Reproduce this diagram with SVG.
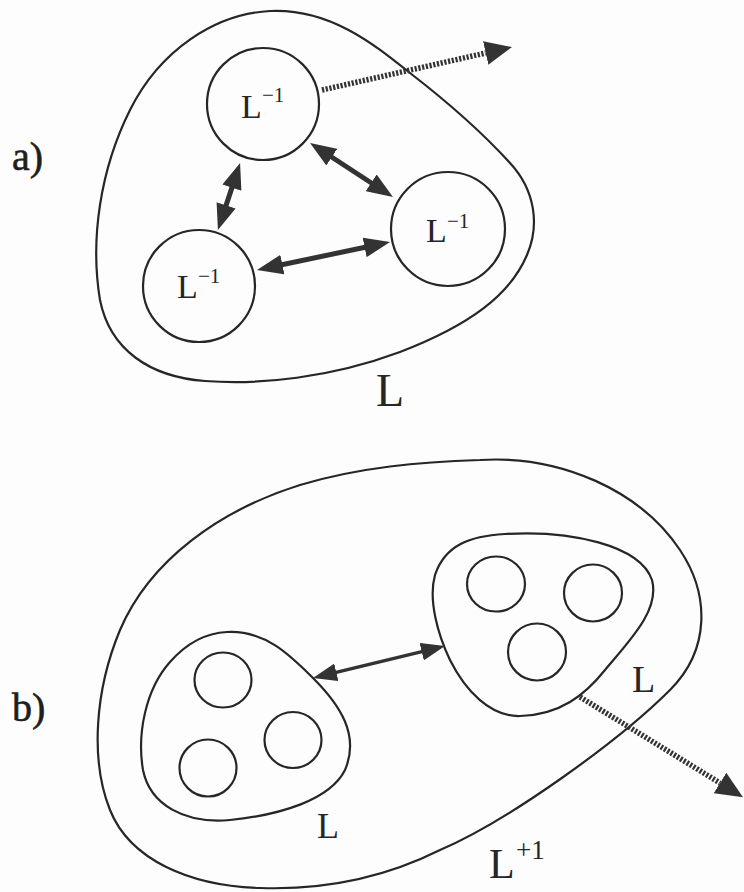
<svg xmlns="http://www.w3.org/2000/svg" width="744" height="892" viewBox="0 0 744 892">
  <style>
    .blob { fill: none; stroke: #262626; stroke-width: 2.2; }
    .unit { fill: none; stroke: #262626; stroke-width: 2.2; }
    .lbl { font-family: "Liberation Serif", "Times New Roman", serif; fill: #262626; }
    .tag { font-family: "Liberation Serif", "Times New Roman", serif; fill: #1e1e1e; stroke: #1e1e1e; stroke-width: 0.6; }
    .link { fill: none; stroke: #333; stroke-width: 5; }
    .link-thin { fill: none; stroke: #333; stroke-width: 3.5; }
    .escape { fill: none; stroke: #333; stroke-width: 5.5; stroke-dasharray: 2.2 1.6; }
  </style>
  <defs>
    <marker id="head" viewBox="0 0 26 20" refX="14" refY="10" markerWidth="26" markerHeight="20" markerUnits="userSpaceOnUse" orient="auto-start-reverse">
      <path d="M0,0 L26,10 L0,20 z" fill="#333"/>
    </marker>
    <marker id="head-sm" viewBox="0 0 24 18" refX="13" refY="9" markerWidth="24" markerHeight="18" markerUnits="userSpaceOnUse" orient="auto-start-reverse">
      <path d="M0,0 L24,9 L0,18 z" fill="#333"/>
    </marker>
    <marker id="head-out" viewBox="0 0 27 24" refX="0" refY="12" markerWidth="27" markerHeight="24" markerUnits="userSpaceOnUse" orient="auto">
      <path d="M0,0 L27,12 L0,24 z" fill="#333"/>
    </marker>
  </defs>

  <rect width="744" height="892" fill="#fdfdfd"/>

  <!-- part a: one level-L unit made of three level L-1 units -->
  <text class="tag" x="12" y="170" font-size="40">a)</text>

  <g id="a-cluster">
    <path class="blob" d="M 270 11 C 330 8, 375 45, 410 73 C 445 100, 480 130, 510 163 C 535 190, 540 225, 527 255 C 510 295, 470 325, 400 352 C 330 378, 260 385, 205 381 C 150 377, 110 350, 100 300 C 90 240, 100 170, 130 110 C 160 50, 215 14, 270 11 Z"/>
    <text class="lbl" x="376" y="406" font-size="46">L</text>
  </g>

  <g id="a-top">
    <circle class="unit" cx="263" cy="104" r="56"/>
    <text class="lbl" x="241" y="118" font-size="34">L</text>
    <text class="lbl" x="262" y="102" font-size="21">−1</text>
  </g>

  <g id="a-left">
    <circle class="unit" cx="199" cy="286" r="56"/>
    <text class="lbl" x="177" y="298" font-size="34">L</text>
    <text class="lbl" x="198" y="283" font-size="21">−1</text>
  </g>

  <g id="a-right">
    <circle class="unit" cx="448" cy="229" r="57"/>
    <text class="lbl" x="426" y="242" font-size="34">L</text>
    <text class="lbl" x="447" y="228" font-size="21">−1</text>
  </g>

  <!-- part b: one level L+1 unit made of two level-L units -->
  <text class="tag" x="12" y="721" font-size="40">b)</text>

  <g id="b-cluster">
    <path class="blob" d="M 480 460 C 560 455, 640 490, 680 550 C 710 595, 710 650, 670 690 C 620 740, 510 820, 440 850 C 380 880, 320 890, 260 888 C 190 886, 130 860, 110 810 C 90 760, 95 690, 120 630 C 150 560, 220 510, 300 485 C 360 467, 420 462, 480 460 Z"/>
    <text class="lbl" x="489" y="878" font-size="42">L</text>
    <text class="lbl" x="516" y="859" font-size="27">+1</text>
  </g>

  <g id="b-left">
    <path class="blob" d="M 227 632 C 265 630, 290 655, 313 678 C 340 705, 360 735, 345 770 C 330 800, 280 815, 230 820 C 185 824, 150 805, 143 770 C 137 735, 145 690, 170 662 C 185 645, 205 633, 227 632 Z"/>
    <ellipse class="unit" cx="223" cy="680" rx="28.5" ry="27.5"/>
    <ellipse class="unit" cx="293" cy="740" rx="28.5" ry="28"/>
    <ellipse class="unit" cx="208" cy="768" rx="28.5" ry="28.5"/>
    <text class="lbl" x="317" y="838" font-size="36">L</text>
  </g>

  <g id="b-right">
    <path class="blob" d="M 505 534 C 570 530, 640 545, 652 580 C 660 610, 630 640, 605 670 C 585 695, 560 715, 520 716 C 490 717, 465 690, 450 660 C 438 635, 428 600, 435 575 C 445 545, 470 536, 505 534 Z"/>
    <ellipse class="unit" cx="496" cy="584" rx="29" ry="27.5"/>
    <ellipse class="unit" cx="593" cy="593" rx="29" ry="28.5"/>
    <ellipse class="unit" cx="537" cy="652" rx="29" ry="28.5"/>
    <text class="lbl" x="632" y="692" font-size="38">L</text>
  </g>

  <g id="connectors">
    <!-- part a: exchanges between the three inner units -->
    <line class="link" x1="320.1" y1="149.5" x2="382.9" y2="190.5" marker-start="url(#head)" marker-end="url(#head)"/>
    <line class="link" x1="236.3" y1="174.4" x2="221.7" y2="218.6" marker-start="url(#head)" marker-end="url(#head)"/>
    <line class="link" x1="268.7" y1="267.5" x2="378.3" y2="244.5" marker-start="url(#head)" marker-end="url(#head)"/>
    <!-- part a: outward link crossing the boundary -->
    <line class="escape" x1="322" y1="90" x2="485.7" y2="53" marker-end="url(#head-out)"/>

    <!-- part b: exchange between the two level-L units -->
    <line class="link-thin" x1="323.7" y1="675.4" x2="434.3" y2="648.6" marker-start="url(#head-sm)" marker-end="url(#head-sm)"/>
    <!-- part b: outward link crossing the boundary -->
    <line class="escape" x1="580" y1="697" x2="720" y2="783" marker-end="url(#head-out)"/>
  </g>
</svg>
